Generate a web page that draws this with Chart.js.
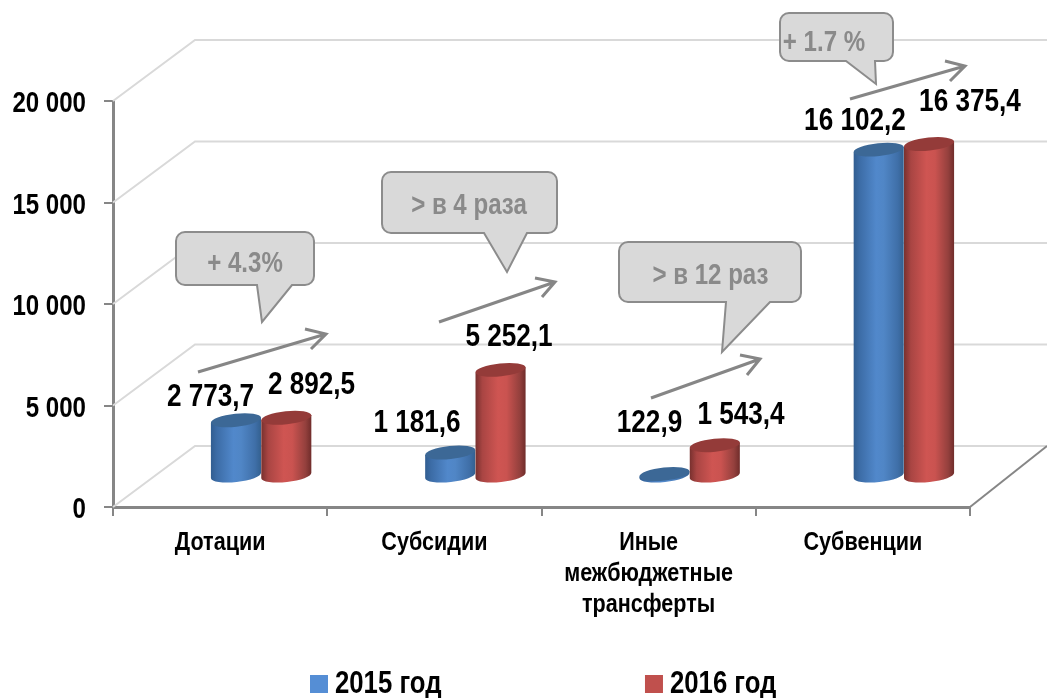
<!DOCTYPE html>
<html lang="ru"><head><meta charset="utf-8">
<style>html,body{margin:0;padding:0;background:#fff}#w{width:1047px;height:698px}</style>
<script src="https://cdn.jsdelivr.net/npm/chart.js@4/dist/chart.umd.min.js"></script>
</head><body><div id="w"><canvas id="c" width="1047" height="698"></canvas></div>
<script>
const categories = [['Дотации'], ['Субсидии'], ['Иные', 'межбюджетные', 'трансферты'], ['Субвенции']];
const series2015 = [2773.7, 1181.6, 122.9, 16102.2];
const series2016 = [2892.5, 5252.1, 1543.4, 16375.4];
const seriesNames = ['2015 год', '2016 год'];
const yTicks = [0, 5000, 10000, 15000, 20000];
const callouts = [
  {text:'+ 4.3%', x:176, y:232, w:138, h:53, tail:[257,262,322,292], tx:245, ty:264},
  {text:'> в 4 раза', x:382, y:172, w:175, h:61, tail:[484,507,272,527], tx:469, ty:206},
  {text:'> в 12 раз', x:619, y:242, w:182, h:60, tail:[726,722,352,770], tx:710.5, ty:276},
  {text:'+ 1.7 %', x:780, y:13, w:113, h:48, tail:[846,876,84,875], tx:824, ty:43}
];
const arrows = [
  [198,372,326,334,305,329,311,349],
  [439,322,555,282,535,278,542,297],
  [651,398,760,359,740,355,747,375],
  [850,99,965,66,945,61,950,81]
];
const valueLabelPos = [
  [[210.5,397],[417,423],[649.5,423],[855,121]],
  [[311.5,385],[509,337],[741,415],[970,102]]
];

const FONT = '"Liberation Sans",Arial,sans-serif';
const NARROW = 0.83;
const DEPTH_X = 82, DEPTH_Y = -61, BAR_DX = 41, BAR_DY = -30.5;
const GRADS = {
  '#558ed5': [[0,'#315d90'],[.12,'#3c6ca6'],[.45,'#5188cb'],[.6,'#5086c6'],[.88,'#3f6fa8'],[1,'#33608f']],
  '#c0504d': [[0,'#77302e'],[.14,'#a94543'],[.45,'#cf5552'],[.62,'#ca5350'],[.88,'#94403d'],[1,'#6f2c2a']]
};
const TOPS = {'#558ed5':'#3c6896', '#c0504d':'#943b39'};
const TILT = -6 * Math.PI / 180, RY = 6.5;

// The original uses a condensed bold face: squeeze all canvas text horizontally.
const cv = document.getElementById('c');
const c2d = cv.getContext('2d');
const rawFill = c2d.fillText.bind(c2d), rawMeasure = c2d.measureText.bind(c2d);
c2d.fillText = function (t, x, y) {
  c2d.save();
  c2d.translate(x, y);
  c2d.scale(NARROW, 1);
  rawFill(t, 0, 0);
  c2d.restore();
};
c2d.measureText = function (t) {
  const m = rawMeasure(t);
  return {width: m.width * NARROW, actualBoundingBoxAscent: m.actualBoundingBoxAscent, actualBoundingBoxDescent: m.actualBoundingBoxDescent};
};

Chart.BarElement.prototype.draw = function (ctx) {
  const color = this.options.backgroundColor;
  const cx = this.x, rx = this.width / 2, yt = this.y, yb = this.base;
  const dx = rx * Math.cos(TILT), dy = rx * Math.sin(TILT);
  const g = ctx.createLinearGradient(cx - rx, 0, cx + rx, 0);
  GRADS[color].forEach(s => g.addColorStop(s[0], s[1]));
  ctx.save();
  ctx.fillStyle = g;
  ctx.beginPath();
  ctx.moveTo(cx - dx, yt - dy);
  ctx.lineTo(cx - dx, yb - dy);
  ctx.ellipse(cx, yb, rx, RY, TILT, Math.PI, 0, true);
  ctx.lineTo(cx + dx, yt + dy);
  ctx.closePath();
  ctx.fill();
  ctx.fillStyle = TOPS[color];
  ctx.beginPath();
  ctx.ellipse(cx, yt, rx, RY, TILT, 0, Math.PI * 2);
  ctx.fill();
  ctx.restore();
};

function fmt(v) {
  return v.toFixed(1).replace('.', ',').replace(/\B(?=(\d{3})(?!\d))/g, ' ');
}

const scene = {
  id: 'scene',
  beforeLayout(chart) {
    const lg = chart.legend;
    if (lg && !lg._patched) {
      const f = lg.fit;
      lg.fit = function () { f.call(this); this.height = 30; };
      lg._patched = true;
    }
  },
  afterLayout(chart) {
    const lg = chart.legend, P = lg.options.labels.padding;
    lg.left = 318.5 - P;
    lg.right = 1047;
    lg.top = 668.5 - P;
  },
  beforeDatasetsDraw(chart) {
    const ctx = chart.ctx, y = chart.scales.y, a = chart.chartArea;
    ctx.save();
    ctx.strokeStyle = '#d9d9d9';
    ctx.lineWidth = 2;
    yTicks.forEach(v => {
      const p = y.getPixelForValue(v);
      ctx.beginPath();
      ctx.moveTo(a.left, p);
      ctx.lineTo(a.left + DEPTH_X, p + DEPTH_Y);
      ctx.lineTo(1047, p + DEPTH_Y);
      ctx.stroke();
    });
    ctx.strokeStyle = '#868686';
    ctx.beginPath();
    ctx.moveTo(a.right, a.bottom);
    ctx.lineTo(a.right + 77, a.bottom + DEPTH_Y);
    ctx.stroke();
    ctx.translate(BAR_DX, BAR_DY);
    [0, 1].forEach(i => chart.getDatasetMeta(i).controller.draw());
    ctx.restore();
    return false;
  },
  afterDraw(chart) {
    const ctx = chart.ctx;
    ctx.save();
    ctx.strokeStyle = '#868686';
    ctx.lineWidth = 3;
    ctx.lineJoin = 'miter';
    arrows.forEach(r => {
      ctx.beginPath();
      ctx.moveTo(r[0], r[1]); ctx.lineTo(r[2], r[3]);
      ctx.moveTo(r[4], r[5]); ctx.lineTo(r[2], r[3]); ctx.lineTo(r[6], r[7]);
      ctx.stroke();
    });
    callouts.forEach(c => {
      const r = 9, b = c.y + c.h, R = c.x + c.w;
      ctx.beginPath();
      ctx.moveTo(c.x + r, c.y);
      ctx.arcTo(R, c.y, R, b, r);
      ctx.arcTo(R, b, c.x, b, r);
      ctx.lineTo(c.tail[3], b);
      ctx.lineTo(c.tail[1], c.tail[2]);
      ctx.lineTo(c.tail[0], b);
      ctx.arcTo(c.x, b, c.x, c.y, r);
      ctx.arcTo(c.x, c.y, R, c.y, r);
      ctx.closePath();
      ctx.fillStyle = '#d9d9d9';
      ctx.lineWidth = 2;
      ctx.strokeStyle = '#8c8c8c';
      ctx.fill();
      ctx.stroke();
      ctx.fillStyle = '#8a8a8a';
      ctx.font = 'bold 29px ' + FONT;
      ctx.textAlign = 'center';
      ctx.textBaseline = 'middle';
      ctx.fillText(c.text, c.tx, c.ty);
    });
    ctx.fillStyle = '#000';
    ctx.font = 'bold 31.5px ' + FONT;
    ctx.textAlign = 'center';
    ctx.textBaseline = 'middle';
    [series2015, series2016].forEach((s, i) => s.forEach((v, j) => {
      const p = valueLabelPos[i][j];
      ctx.fillText(fmt(v), p[0], p[1]);
    }));
    ctx.restore();
  }
};

new Chart(cv, {
  type: 'bar',
  data: {
    labels: categories,
    datasets: [
      {label: seriesNames[0], data: series2015, backgroundColor: '#558ed5'},
      {label: seriesNames[1], data: series2016, backgroundColor: '#c0504d'}
    ]
  },
  options: {
    responsive: false,
    animation: false,
    events: [],
    layout: {padding: {top: 101, right: 77, left: 0, bottom: 0}},
    datasets: {bar: {categoryPercentage: 0.47, barPercentage: 1}},
    plugins: {
      tooltip: {enabled: false},
      legend: {
        position: 'bottom',
        align: 'start',
        labels: {
          boxWidth: 1, boxHeight: 1, padding: 212, color: '#000',
          font: {family: FONT, size: 31, weight: 'bold'},
          generateLabels: ch => ch.data.datasets.map((d, i) => ({
            text: d.label, fillStyle: d.backgroundColor, strokeStyle: d.backgroundColor,
            lineWidth: 17, datasetIndex: i, lineJoin: 'miter'
          }))
        }
      }
    },
    scales: {
      x: {
        afterFit(s) { s.height = 161; },
        grid: {drawOnChartArea: false, tickLength: 9, color: '#868686', lineWidth: 2},
        border: {color: '#868686', width: 3},
        ticks: {color: '#000', maxRotation: 0, autoSkip: false, padding: 11,
          font: {family: FONT, size: 26, weight: 'bold', lineHeight: 1.19}}
      },
      y: {
        min: 0, max: 20000,
        afterFit(s) { s.width = 113; },
        afterBuildTicks(s) { s.ticks = yTicks.map(v => ({value: v})); },
        grid: {drawOnChartArea: false, tickLength: 9, color: '#868686', lineWidth: 2},
        border: {color: '#868686', width: 3},
        ticks: {color: '#000', padding: 18, labelOffset: 3,
          font: {family: FONT, size: 29, weight: 'bold'},
          callback: v => String(v).replace(/\B(?=(\d{3})(?!\d))/g, ' ')}
      }
    }
  },
  plugins: [scene]
});
</script></body></html>
